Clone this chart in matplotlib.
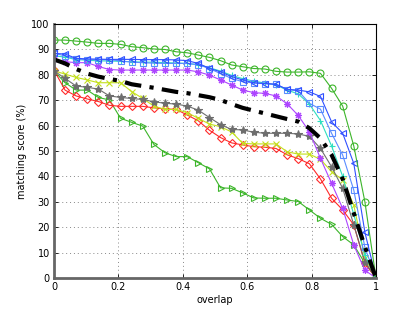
import numpy as np
import matplotlib
matplotlib.use('Agg')
from matplotlib import pyplot as plt

# overlap thresholds (30 steps from 0 to 1)
overlap = np.linspace(0, 1, 30)

# matching scores (%)
green_circle = [93.7, 93.7, 93.3, 92.9, 92.4, 92.4, 92.0, 91.1, 90.7, 90.2,
                90.0, 89.1, 88.7, 87.8, 86.9, 85.6, 83.9, 83.2, 82.5, 82.3,
                81.4, 81.1, 81.1, 81.2, 80.6, 74.7, 67.7, 52.0, 30.0, 0.0]
blue_tri = [88.5, 88.2, 86.5, 86.3, 86.2, 86.1, 86.1, 86.1, 86.0, 86.0,
            86.0, 85.9, 85.6, 84.5, 82.6, 81.2, 79.3, 78.0, 76.9, 76.6,
            76.3, 74.3, 74.0, 73.3, 71.5, 61.5, 57.0, 45.1, 18.0, 0.0]
blue_sq = [88.5, 87.5, 86.3, 86.0, 86.0, 86.0, 85.5, 85.0, 84.8, 84.6,
           84.5, 84.5, 84.5, 84.0, 82.5, 80.5, 78.6, 77.3, 76.8, 76.5,
           76.3, 74.2, 73.7, 68.8, 66.5, 57.0, 48.4, 34.6, 12.0, 0.0]
cyan_plus = [87.5, 87.0, 86.0, 85.8, 85.5, 85.5, 85.3, 85.2, 85.0, 85.0,
             84.8, 84.7, 84.5, 84.0, 82.8, 81.5, 79.8, 78.5, 77.5, 76.8,
             76.0, 74.0, 72.5, 68.5, 62.0, 52.0, 40.0, 25.0, 9.0, 0.0]
purple_star = [86.1, 85.2, 84.8, 84.8, 83.3, 82.1, 81.9, 81.9, 81.9, 81.9,
               81.9, 81.9, 81.9, 81.2, 79.9, 78.0, 76.0, 74.0, 73.0, 72.7,
               71.7, 68.6, 64.0, 57.6, 47.1, 37.3, 27.4, 13.0, 3.0, 0.0]
mean_score = [86.1, 84.5, 82.3, 80.5, 79.3, 78.4, 77.6, 76.3, 75.6, 74.9,
              74.1, 73.3, 72.8, 72.0, 71.2, 70.1, 68.5, 67.0, 65.9, 64.8,
              63.7, 62.6, 61.6, 59.0, 55.0, 48.5, 39.0, 25.5, 12.3, 0.0]
gray_pent = [81.6, 78.6, 75.6, 75.1, 74.4, 71.7, 71.1, 70.7, 70.3, 69.4,
             68.8, 68.5, 67.7, 66.1, 63.2, 60.4, 58.5, 58.3, 57.4, 57.0,
             57.0, 57.0, 56.7, 55.8, 51.0, 43.8, 35.3, 20.9, 6.4, 0.0]
yellow_x = [81.6, 80.3, 79.0, 78.0, 76.9, 76.9, 76.9, 73.4, 70.7, 67.7,
            66.4, 66.4, 65.1, 62.9, 60.6, 59.6, 57.5, 53.0, 52.8, 52.8,
            52.8, 49.7, 48.8, 48.8, 46.7, 41.9, 38.6, 28.7, 8.0, 0.0]
red_diamond = [81.9, 74.0, 71.7, 70.5, 69.5, 68.0, 67.6, 67.6, 67.6, 67.0,
               66.6, 66.4, 64.2, 61.9, 58.2, 55.3, 53.2, 52.4, 51.7, 51.5,
               51.0, 48.5, 47.0, 45.0, 39.0, 31.4, 26.8, 20.9, 5.8, 0.0]
green_tri = [81.6, 76.9, 74.0, 74.0, 71.1, 70.1, 62.9, 61.3, 59.8, 52.6,
             49.3, 47.8, 47.8, 45.4, 43.0, 35.5, 35.3, 33.5, 31.5, 31.4,
             31.4, 30.7, 30.1, 26.8, 23.5, 21.1, 16.3, 13.0, 5.8, 0.0]

x_ticks = [0, 0.2, 0.4, 0.6, 0.8, 1]
x_ticklabels = ['0', '0.2', '0.4', '0.6', '0.8', '1']
y_ticks = np.arange(0, 101, 10)


fig = plt.figure(figsize=(4.15, 3.13), dpi=100)
ax = fig.add_axes([0.130, 0.112, 0.776, 0.811])

asterisk = (8, 2, 0)

series = [
    (green_tri,    '>',      '#3cb52a'),
    (red_diamond,  'D',      '#ff2a2a'),
    (yellow_x,     'x',      '#c4e01c'),
    (gray_pent,    '*',      '#6e6e6e'),
    (purple_star,  asterisk, '#ad45ff'),
    (cyan_plus,    '+',      '#2ee0c0'),
    (blue_sq,      's',      '#5a8cff'),
    (blue_tri,     '<',      '#3050ff'),
    (green_circle, 'o',      '#3cb52a'),
]

for vals, mk, col in series:
    ms = 5
    if mk == 'D':
        ms = 4
    if mk == '*':
        ms = 6
    if mk in ('x', '+'):
        ms = 4
    fill = col if mk == '*' else 'none'
    ax.plot(overlap, vals, '-', marker=mk, color=col, lw=0.8,
            markersize=ms, markerfacecolor=fill, markeredgecolor=col,
            markeredgewidth=0.8)

# average curve
ax.plot(overlap, mean_score, color='black', lw=3, linestyle=(0, (4, 2, 1, 2)))

ax.set_xlim(0, 1)
ax.set_ylim(0, 100)
ax.set_xticks(x_ticks)
ax.set_xticklabels(x_ticklabels)
ax.set_yticks(y_ticks)
ax.tick_params(direction='in', length=3, labelsize=7, top=True, right=True,
               width=0.6, pad=3)
ax.grid(True, linestyle=(0, (1, 3)), color='#888888', lw=0.7)

for side in ['left', 'bottom']:
    ax.spines[side].set_linewidth(2)
    ax.spines[side].set_color('#666666')
for side in ['top', 'right']:
    ax.spines[side].set_linewidth(0.8)
    ax.spines[side].set_color('black')

ax.set_xlabel('overlap', fontsize=7, labelpad=2)
ax.set_ylabel('matching score (%)', fontsize=7, labelpad=3)

fig.savefig('out.png', dpi=100)
